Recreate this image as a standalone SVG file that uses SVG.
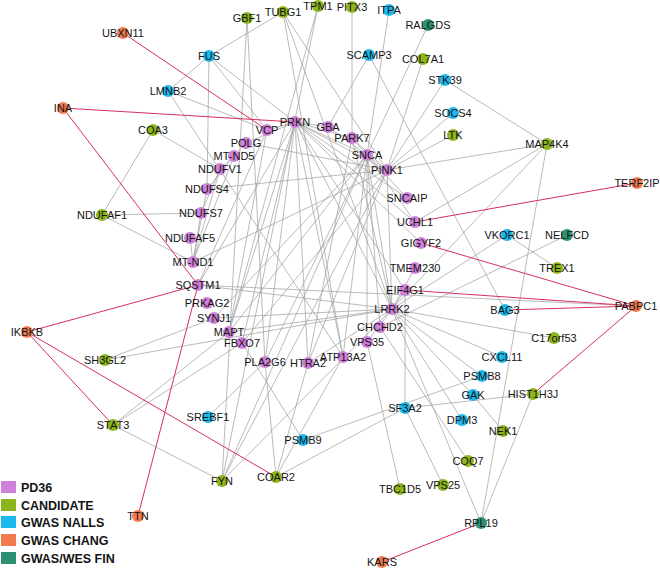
<svg xmlns="http://www.w3.org/2000/svg" width="660" height="568" viewBox="0 0 660 568">
<style>
.e line{stroke:#a3a3a3;stroke-width:0.75}
.r line{stroke:#d6305a;stroke-width:1}
circle{stroke:none}
.pd{fill:#cf80d8}.ca{fill:#8db51c}.na{fill:#1cb9ec}.ch{fill:#f27a4e}.fi{fill:#2b9172}
text{font-family:"Liberation Sans",Arial,sans-serif;font-size:11px;text-anchor:middle;fill:#141414}
.lg text{font-weight:bold;font-size:12.5px;text-anchor:start}
</style>
<rect width="660" height="568" fill="#fff"/>
<g id="connectors">
<g class="e">
<line x1="168" y1="91" x2="209" y2="56"/>
<line x1="209" y1="56" x2="283" y2="12"/>
<line x1="209" y1="56" x2="295" y2="122"/>
<line x1="209" y1="56" x2="267" y2="130"/>
<line x1="209" y1="56" x2="207" y2="189"/>
<line x1="168" y1="91" x2="267" y2="130"/>
<line x1="168" y1="91" x2="343" y2="357"/>
<line x1="153" y1="130" x2="102" y2="215"/>
<line x1="153" y1="130" x2="220" y2="169"/>
<line x1="102" y1="215" x2="201" y2="213"/>
<line x1="102" y1="215" x2="193" y2="262"/>
<line x1="247" y1="18" x2="222" y2="481"/>
<line x1="247" y1="18" x2="265" y2="362"/>
<line x1="283" y1="12" x2="343" y2="357"/>
<line x1="283" y1="12" x2="392" y2="309"/>
<line x1="283" y1="12" x2="387" y2="170"/>
<line x1="318" y1="6" x2="222" y2="481"/>
<line x1="318" y1="6" x2="229" y2="332"/>
<line x1="352" y1="7" x2="352" y2="138"/>
<line x1="389" y1="10" x2="367" y2="155"/>
<line x1="369" y1="55" x2="328" y2="127"/>
<line x1="369" y1="55" x2="505" y2="310"/>
<line x1="428" y1="25" x2="367" y2="155"/>
<line x1="423" y1="59" x2="387" y2="170"/>
<line x1="445" y1="80" x2="387" y2="170"/>
<line x1="445" y1="80" x2="547" y2="144"/>
<line x1="453" y1="113" x2="387" y2="170"/>
<line x1="453" y1="135" x2="387" y2="170"/>
<line x1="547" y1="144" x2="387" y2="170"/>
<line x1="547" y1="144" x2="415" y2="222"/>
<line x1="547" y1="144" x2="392" y2="309"/>
<line x1="547" y1="144" x2="481" y2="523"/>
<line x1="507" y1="235" x2="557" y2="268"/>
<line x1="507" y1="235" x2="392" y2="309"/>
<line x1="567" y1="235" x2="380" y2="327"/>
<line x1="554" y1="338" x2="392" y2="309"/>
<line x1="198" y1="285" x2="636" y2="306"/>
<line x1="392" y1="309" x2="502" y2="357"/>
<line x1="392" y1="309" x2="482" y2="376"/>
<line x1="392" y1="309" x2="473" y2="395"/>
<line x1="473" y1="395" x2="503" y2="431"/>
<line x1="392" y1="309" x2="462" y2="420"/>
<line x1="392" y1="309" x2="481" y2="523"/>
<line x1="380" y1="327" x2="468" y2="461"/>
<line x1="367" y1="342" x2="400" y2="489"/>
<line x1="405" y1="408" x2="443" y2="485"/>
<line x1="405" y1="290" x2="405" y2="408"/>
<line x1="405" y1="408" x2="533" y2="394"/>
<line x1="303" y1="440" x2="482" y2="376"/>
<line x1="276" y1="477" x2="405" y2="408"/>
<line x1="533" y1="394" x2="481" y2="523"/>
<line x1="242" y1="343" x2="303" y2="440"/>
<line x1="276" y1="477" x2="265" y2="362"/>
<line x1="276" y1="477" x2="308" y2="363"/>
<line x1="276" y1="477" x2="343" y2="357"/>
<line x1="208" y1="417" x2="265" y2="362"/>
<line x1="113" y1="425" x2="222" y2="481"/>
<line x1="113" y1="425" x2="229" y2="332"/>
<line x1="113" y1="425" x2="242" y2="343"/>
<line x1="105" y1="360" x2="214" y2="318"/>
<line x1="105" y1="360" x2="392" y2="309"/>
<line x1="222" y1="481" x2="367" y2="155"/>
<line x1="222" y1="481" x2="392" y2="309"/>
<line x1="222" y1="481" x2="387" y2="170"/>
<line x1="295" y1="122" x2="328" y2="127"/>
<line x1="295" y1="122" x2="352" y2="138"/>
<line x1="295" y1="122" x2="367" y2="155"/>
<line x1="295" y1="122" x2="387" y2="170"/>
<line x1="295" y1="122" x2="407" y2="198"/>
<line x1="295" y1="122" x2="415" y2="222"/>
<line x1="295" y1="122" x2="392" y2="309"/>
<line x1="295" y1="122" x2="267" y2="130"/>
<line x1="295" y1="122" x2="198" y2="285"/>
<line x1="295" y1="122" x2="229" y2="332"/>
<line x1="295" y1="122" x2="242" y2="343"/>
<line x1="295" y1="122" x2="308" y2="363"/>
<line x1="295" y1="122" x2="265" y2="362"/>
<line x1="295" y1="122" x2="405" y2="290"/>
<line x1="295" y1="122" x2="421" y2="243"/>
<line x1="295" y1="122" x2="343" y2="357"/>
<line x1="295" y1="122" x2="246" y2="143"/>
<line x1="387" y1="170" x2="367" y2="155"/>
<line x1="387" y1="170" x2="352" y2="138"/>
<line x1="387" y1="170" x2="392" y2="309"/>
<line x1="387" y1="170" x2="308" y2="363"/>
<line x1="387" y1="170" x2="242" y2="343"/>
<line x1="387" y1="170" x2="193" y2="262"/>
<line x1="387" y1="170" x2="207" y2="189"/>
<line x1="387" y1="170" x2="246" y2="143"/>
<line x1="367" y1="155" x2="352" y2="138"/>
<line x1="367" y1="155" x2="328" y2="127"/>
<line x1="367" y1="155" x2="392" y2="309"/>
<line x1="367" y1="155" x2="415" y2="222"/>
<line x1="367" y1="155" x2="407" y2="198"/>
<line x1="367" y1="155" x2="229" y2="332"/>
<line x1="367" y1="155" x2="214" y2="318"/>
<line x1="367" y1="155" x2="265" y2="362"/>
<line x1="367" y1="155" x2="343" y2="357"/>
<line x1="367" y1="155" x2="367" y2="342"/>
<line x1="367" y1="155" x2="380" y2="327"/>
<line x1="352" y1="138" x2="392" y2="309"/>
<line x1="352" y1="138" x2="308" y2="363"/>
<line x1="392" y1="309" x2="405" y2="290"/>
<line x1="392" y1="309" x2="367" y2="342"/>
<line x1="392" y1="309" x2="229" y2="332"/>
<line x1="392" y1="309" x2="415" y2="268"/>
<line x1="392" y1="309" x2="198" y2="285"/>
<line x1="392" y1="309" x2="308" y2="363"/>
<line x1="392" y1="309" x2="214" y2="318"/>
<line x1="234" y1="156" x2="220" y2="169"/>
<line x1="234" y1="156" x2="207" y2="189"/>
<line x1="220" y1="169" x2="201" y2="213"/>
<line x1="207" y1="189" x2="193" y2="262"/>
<line x1="201" y1="213" x2="193" y2="262"/>
<line x1="190" y1="238" x2="193" y2="262"/>
<line x1="220" y1="169" x2="193" y2="262"/>
<line x1="234" y1="156" x2="193" y2="262"/>
<line x1="246" y1="143" x2="234" y2="156"/>
<line x1="267" y1="130" x2="198" y2="285"/>
<line x1="267" y1="130" x2="229" y2="332"/>
</g>
<g class="r">
<line x1="123" y1="33" x2="267" y2="130"/>
<line x1="63" y1="108" x2="295" y2="122"/>
<line x1="63" y1="108" x2="198" y2="285"/>
<line x1="198" y1="285" x2="138" y2="516"/>
<line x1="27" y1="332" x2="198" y2="285"/>
<line x1="27" y1="332" x2="113" y2="425"/>
<line x1="27" y1="332" x2="276" y2="477"/>
<line x1="415" y1="222" x2="637" y2="183"/>
<line x1="421" y1="243" x2="636" y2="306"/>
<line x1="405" y1="290" x2="636" y2="306"/>
<line x1="505" y1="310" x2="636" y2="306"/>
<line x1="636" y1="306" x2="533" y2="394"/>
<line x1="481" y1="523" x2="382" y2="562"/>
</g>
</g>
<g id="nodes">
<g id="UBXN11"><circle class="ch" cx="123" cy="33" r="6"/><text x="123" y="37">UBXN11</text></g>
<g id="GBF1"><circle class="ca" cx="247" cy="18" r="6"/><text x="247" y="22">GBF1</text></g>
<g id="TUBG1"><circle class="ca" cx="283" cy="12" r="6"/><text x="283" y="16">TUBG1</text></g>
<g id="TPM1"><circle class="ca" cx="318" cy="6" r="6"/><text x="318" y="10">TPM1</text></g>
<g id="PITX3"><circle class="ca" cx="352" cy="7" r="6"/><text x="352" y="11">PITX3</text></g>
<g id="ITPA"><circle class="na" cx="389" cy="10" r="6"/><text x="389" y="14">ITPA</text></g>
<g id="RALGDS"><circle class="fi" cx="428" cy="25" r="6"/><text x="428" y="29">RALGDS</text></g>
<g id="FUS"><circle class="na" cx="209" cy="56" r="6"/><text x="209" y="60">FUS</text></g>
<g id="SCAMP3"><circle class="na" cx="369" cy="55" r="6"/><text x="369" y="59">SCAMP3</text></g>
<g id="COL7A1"><circle class="ca" cx="423" cy="59" r="6"/><text x="423" y="63">COL7A1</text></g>
<g id="STK39"><circle class="na" cx="445" cy="80" r="6"/><text x="445" y="84">STK39</text></g>
<g id="LMNB2"><circle class="na" cx="168" cy="91" r="6"/><text x="168" y="95">LMNB2</text></g>
<g id="INA"><circle class="ch" cx="63" cy="108" r="6"/><text x="63" y="112">INA</text></g>
<g id="SOCS4"><circle class="na" cx="453" cy="113" r="6"/><text x="453" y="117">SOCS4</text></g>
<g id="COA3"><circle class="ca" cx="153" cy="130" r="6"/><text x="153" y="134">COA3</text></g>
<g id="PRKN"><circle class="pd" cx="295" cy="122" r="6"/><text x="295" y="126">PRKN</text></g>
<g id="GBA"><circle class="pd" cx="328" cy="127" r="6"/><text x="328" y="131">GBA</text></g>
<g id="VCP"><circle class="pd" cx="267" cy="130" r="6"/><text x="267" y="134">VCP</text></g>
<g id="LTK"><circle class="ca" cx="453" cy="135" r="6"/><text x="453" y="139">LTK</text></g>
<g id="PARK7"><circle class="pd" cx="352" cy="138" r="6"/><text x="352" y="142">PARK7</text></g>
<g id="POLG"><circle class="pd" cx="246" cy="143" r="6"/><text x="246" y="147">POLG</text></g>
<g id="MAP4K4"><circle class="ca" cx="547" cy="144" r="6"/><text x="547" y="148">MAP4K4</text></g>
<g id="SNCA"><circle class="pd" cx="367" cy="155" r="6"/><text x="367" y="159">SNCA</text></g>
<g id="MT-ND5"><circle class="pd" cx="234" cy="156" r="6"/><text x="234" y="160">MT-ND5</text></g>
<g id="NDUFV1"><circle class="pd" cx="220" cy="169" r="6"/><text x="220" y="173">NDUFV1</text></g>
<g id="PINK1"><circle class="pd" cx="387" cy="170" r="6"/><text x="387" y="174">PINK1</text></g>
<g id="TERF2IP"><circle class="ch" cx="637" cy="183" r="6"/><text x="637" y="187">TERF2IP</text></g>
<g id="NDUFS4"><circle class="pd" cx="207" cy="189" r="6"/><text x="207" y="193">NDUFS4</text></g>
<g id="SNCAIP"><circle class="pd" cx="407" cy="198" r="6"/><text x="407" y="202">SNCAIP</text></g>
<g id="NDUFAF1"><circle class="ca" cx="102" cy="215" r="6"/><text x="102" y="219">NDUFAF1</text></g>
<g id="NDUFS7"><circle class="pd" cx="201" cy="213" r="6"/><text x="201" y="217">NDUFS7</text></g>
<g id="UCHL1"><circle class="pd" cx="415" cy="222" r="6"/><text x="415" y="226">UCHL1</text></g>
<g id="VKORC1"><circle class="na" cx="507" cy="235" r="6"/><text x="507" y="239">VKORC1</text></g>
<g id="NELFCD"><circle class="fi" cx="567" cy="235" r="6"/><text x="567" y="239">NELFCD</text></g>
<g id="NDUFAF5"><circle class="pd" cx="190" cy="238" r="6"/><text x="190" y="242">NDUFAF5</text></g>
<g id="GIGYF2"><circle class="pd" cx="421" cy="243" r="6"/><text x="421" y="247">GIGYF2</text></g>
<g id="MT-ND1"><circle class="pd" cx="193" cy="262" r="6"/><text x="193" y="266">MT-ND1</text></g>
<g id="TMEM230"><circle class="pd" cx="415" cy="268" r="6"/><text x="415" y="272">TMEM230</text></g>
<g id="TREX1"><circle class="ca" cx="557" cy="268" r="6"/><text x="557" y="272">TREX1</text></g>
<g id="SQSTM1"><circle class="pd" cx="198" cy="285" r="6"/><text x="198" y="289">SQSTM1</text></g>
<g id="EIF4G1"><circle class="pd" cx="405" cy="290" r="6"/><text x="405" y="294">EIF4G1</text></g>
<g id="PRKAG2"><circle class="pd" cx="207" cy="303" r="6"/><text x="207" y="307">PRKAG2</text></g>
<g id="PABPC1"><circle class="ch" cx="636" cy="306" r="6"/><text x="636" y="310">PABPC1</text></g>
<g id="LRRK2"><circle class="pd" cx="392" cy="309" r="6"/><text x="392" y="313">LRRK2</text></g>
<g id="BAG3"><circle class="na" cx="505" cy="310" r="6"/><text x="505" y="314">BAG3</text></g>
<g id="SYNJ1"><circle class="pd" cx="214" cy="318" r="6"/><text x="214" y="322">SYNJ1</text></g>
<g id="CHCHD2"><circle class="pd" cx="380" cy="327" r="6"/><text x="380" y="331">CHCHD2</text></g>
<g id="IKBKB"><circle class="ch" cx="27" cy="332" r="6"/><text x="27" y="336">IKBKB</text></g>
<g id="MAPT"><circle class="pd" cx="229" cy="332" r="6"/><text x="229" y="336">MAPT</text></g>
<g id="C17orf53"><circle class="ca" cx="554" cy="338" r="6"/><text x="554" y="342">C17orf53</text></g>
<g id="VPS35"><circle class="pd" cx="367" cy="342" r="6"/><text x="367" y="346">VPS35</text></g>
<g id="FBXO7"><circle class="pd" cx="242" cy="343" r="6"/><text x="242" y="347">FBXO7</text></g>
<g id="ATP13A2"><circle class="pd" cx="343" cy="357" r="6"/><text x="343" y="361">ATP13A2</text></g>
<g id="CXCL11"><circle class="na" cx="502" cy="357" r="6"/><text x="502" y="361">CXCL11</text></g>
<g id="SH3GL2"><circle class="ca" cx="105" cy="360" r="6"/><text x="105" y="364">SH3GL2</text></g>
<g id="PLA2G6"><circle class="pd" cx="265" cy="362" r="6"/><text x="265" y="366">PLA2G6</text></g>
<g id="HTRA2"><circle class="pd" cx="308" cy="363" r="6"/><text x="308" y="367">HTRA2</text></g>
<g id="PSMB8"><circle class="na" cx="482" cy="376" r="6"/><text x="482" y="380">PSMB8</text></g>
<g id="HIST1H3J"><circle class="ca" cx="533" cy="394" r="6"/><text x="533" y="398">HIST1H3J</text></g>
<g id="GAK"><circle class="na" cx="473" cy="395" r="6"/><text x="473" y="399">GAK</text></g>
<g id="SF3A2"><circle class="na" cx="405" cy="408" r="6"/><text x="405" y="412">SF3A2</text></g>
<g id="SREBF1"><circle class="na" cx="208" cy="417" r="6"/><text x="208" y="421">SREBF1</text></g>
<g id="DPM3"><circle class="na" cx="462" cy="420" r="6"/><text x="462" y="424">DPM3</text></g>
<g id="STAT3"><circle class="ca" cx="113" cy="425" r="6"/><text x="113" y="429">STAT3</text></g>
<g id="NEK1"><circle class="ca" cx="503" cy="431" r="6"/><text x="503" y="435">NEK1</text></g>
<g id="PSMB9"><circle class="na" cx="303" cy="440" r="6"/><text x="303" y="444">PSMB9</text></g>
<g id="COQ7"><circle class="ca" cx="468" cy="461" r="6"/><text x="468" y="465">COQ7</text></g>
<g id="COAR2"><circle class="ca" cx="276" cy="477" r="6"/><text x="276" y="481">COAR2</text></g>
<g id="FYN"><circle class="ca" cx="222" cy="481" r="6"/><text x="222" y="485">FYN</text></g>
<g id="VPS25"><circle class="ca" cx="443" cy="485" r="6"/><text x="443" y="489">VPS25</text></g>
<g id="TBC1D5"><circle class="ca" cx="400" cy="489" r="6"/><text x="400" y="493">TBC1D5</text></g>
<g id="TTN"><circle class="ch" cx="138" cy="516" r="6"/><text x="138" y="520">TTN</text></g>
<g id="RPL19"><circle class="fi" cx="481" cy="523" r="6"/><text x="481" y="527">RPL19</text></g>
<g id="KARS"><circle class="ch" cx="382" cy="562" r="6"/><text x="382" y="566">KARS</text></g>
</g>
<g id="legend" class="lg">
<rect class="pd" x="1" y="481" width="15" height="12"/><text x="21" y="492">PD36</text>
<rect class="ca" x="1" y="499" width="15" height="12"/><text x="21" y="510">CANDIDATE</text>
<rect class="na" x="1" y="516" width="15" height="12"/><text x="21" y="527">GWAS NALLS</text>
<rect class="ch" x="1" y="534" width="15" height="12"/><text x="21" y="545">GWAS CHANG</text>
<rect class="fi" x="1" y="552" width="15" height="12"/><text x="21" y="563">GWAS/WES FIN</text>
</g>
</svg>
